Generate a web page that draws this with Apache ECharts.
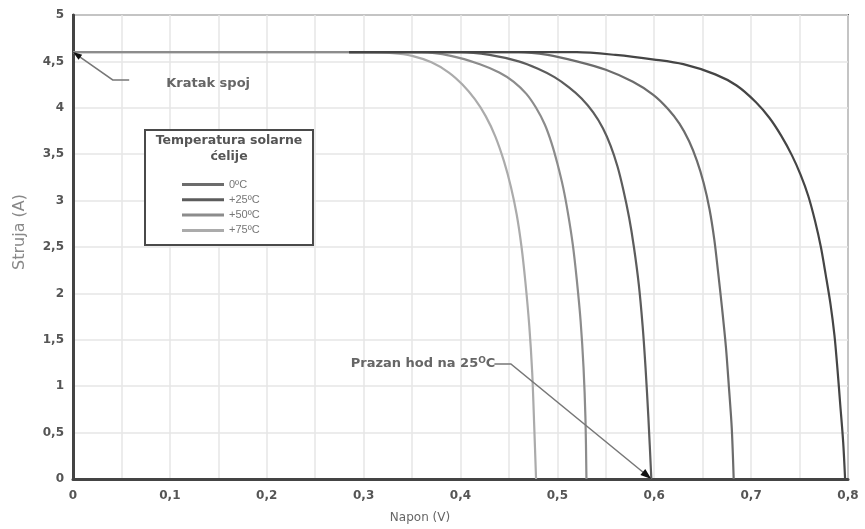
<!DOCTYPE html>
<html>
<head>
<meta charset="utf-8">
<script src="https://cdn.jsdelivr.net/npm/echarts@6/dist/echarts.min.js"></script>
<style>html,body{margin:0;padding:0;background:#fff}#c{width:865px;height:529px}</style>
</head>
<body>
<div id="c"></div>
<script>
const xTicks = ['0','0,1','0,2','0,3','0,4','0,5','0,6','0,7','0,8'];
const yTicks = ['0','0,5','1','1,5','2','2,5','3','3,5','4','4,5','5'];
const seriesNames = ['+75ºC','+50ºC','+25ºC','0ºC','krivulja 5'];
const legendNames = ['0ºC','+25ºC','+50ºC','+75ºC'];

const curve75 = [[0,4.6],[0.30,4.6],[0.33,4.59],[0.35,4.56],[0.37,4.49],[0.388,4.38],[0.402,4.25],[0.415,4.09],[0.426,3.91],[0.436,3.69],[0.445,3.42],[0.452,3.15],[0.458,2.85],[0.463,2.50],[0.467,2.12],[0.471,1.65],[0.474,1.15],[0.476,0.6],[0.478,0]];
const curve50 = [[0,4.6],[0.36,4.6],[0.39,4.56],[0.42,4.47],[0.44,4.38],[0.455,4.28],[0.468,4.15],[0.478,4.00],[0.487,3.82],[0.494,3.62],[0.500,3.40],[0.506,3.14],[0.511,2.86],[0.516,2.52],[0.520,2.15],[0.524,1.70],[0.527,1.20],[0.529,0.65],[0.530,0]];
const curve25 = [[0.285,4.6],[0.40,4.6],[0.43,4.57],[0.46,4.50],[0.48,4.42],[0.497,4.33],[0.512,4.22],[0.525,4.10],[0.537,3.95],[0.547,3.78],[0.555,3.59],[0.562,3.37],[0.568,3.12],[0.574,2.82],[0.579,2.50],[0.584,2.10],[0.588,1.65],[0.591,1.20],[0.594,0.65],[0.597,0]];
const curve0 = [[0.285,4.6],[0.46,4.6],[0.49,4.57],[0.52,4.50],[0.55,4.41],[0.578,4.28],[0.599,4.14],[0.614,3.99],[0.626,3.83],[0.636,3.64],[0.644,3.43],[0.651,3.19],[0.657,2.91],[0.662,2.58],[0.666,2.22],[0.670,1.84],[0.674,1.42],[0.677,1.00],[0.680,0.55],[0.682,0]];
const curve5 = [[0.285,4.6],[0.52,4.6],[0.56,4.57],[0.60,4.52],[0.63,4.47],[0.663,4.36],[0.685,4.24],[0.705,4.06],[0.719,3.89],[0.731,3.70],[0.742,3.49],[0.751,3.28],[0.759,3.05],[0.766,2.78],[0.772,2.50],[0.777,2.20],[0.782,1.88],[0.786,1.55],[0.789,1.20],[0.792,0.80],[0.795,0.40],[0.797,0]];
const curves = [curve75, curve50, curve25, curve0, curve5];
const colors = ['#ababab','#8c8c8c','#5c5c5c','#6c6c6c','#454545'];

// annotation anchor points (data coordinates)
const kratakPath = [[0.058,4.30],[0.041,4.30],[0,4.6]];
const prazanPath = [[0.435,1.24],[0.452,1.24],[0.597,0]];

const chart = echarts.init(document.getElementById('c'), null, {renderer:'canvas'});
const labelStyle = {color:'#555', fontWeight:'bold', fontSize:12, fontFamily:'DejaVu Sans, sans-serif'};
const gridColor = '#e6e6e6';

chart.setOption({
  animation:false,
  backgroundColor:'#fff',
  grid:{left:73, right:17, top:15, bottom:50, show:true, borderColor:'#606060', borderWidth:2, backgroundColor:'transparent'},
  xAxis:{type:'value', min:0, max:0.8, interval:0.1,
    axisLine:{show:true, onZero:false, lineStyle:{color:'#444', width:3}},
    axisTick:{show:false},
    axisLabel:Object.assign({margin:11, formatter:v=>xTicks[Math.round(v/0.1)]}, labelStyle),
    splitLine:{show:true, lineStyle:{color:gridColor, width:1.5}},
    minorTick:{show:false, splitNumber:2},
    minorSplitLine:{show:true, lineStyle:{color:gridColor, width:1.5}}
  },
  yAxis:{type:'value', min:0, max:5, interval:0.5,
    axisLine:{show:true, onZero:false, lineStyle:{color:'#444', width:3}},
    axisTick:{show:false},
    axisLabel:Object.assign({margin:9, formatter:v=>yTicks[Math.round(v/0.5)]}, labelStyle),
    splitLine:{show:true, lineStyle:{color:gridColor, width:1.5}}
  },
  legend:{data:legendNames, orient:'vertical', left:177, top:173, itemWidth:42, itemHeight:3, itemGap:2.3, z:100,
    icon:'rect', textStyle:{color:'#777', fontSize:11, lineHeight:13, fontFamily:'Liberation Sans, Arial, sans-serif'}},
  series: curves.map((d,i)=>({
    name:seriesNames[i], type:'line', data:d, showSymbol:false, symbol:'none', smooth:0.3,
    color:colors[i], lineStyle:{color:colors[i], width:2.2}, z:2+i, silent:true
  }))
});

function px(p){ return chart.convertToPixel({gridIndex:0}, p); }
function arrowHead(tip, from, size){
  const dx = tip[0]-from[0], dy = tip[1]-from[1];
  const len = Math.sqrt(dx*dx+dy*dy); const ux = dx/len, uy = dy/len;
  const bx = tip[0]-ux*size, by = tip[1]-uy*size;
  const w = size*0.35;
  return [[tip[0],tip[1]],[bx-uy*w, by+ux*w],[bx+uy*w, by-ux*w]];
}
const kp = kratakPath.map(px);
const pp = prazanPath.map(px);
const annoFont = 'bold 13px "DejaVu Sans", sans-serif';
const titleFont = 'bold 12.5px "DejaVu Sans", sans-serif';

chart.setOption({
  graphic:[
    {type:'rect', shape:{x:145, y:130, width:168, height:115}, style:{fill:'#fff', stroke:'#4a4a4a', lineWidth:2}, z:50},
    {type:'text', x:229, y:141, style:{text:'Temperatura solarne', fill:'#555', font:titleFont, textAlign:'center', textVerticalAlign:'middle'}, z:51},
    {type:'text', x:229, y:157, style:{text:'ćelije', fill:'#555', font:titleFont, textAlign:'center', textVerticalAlign:'middle'}, z:51},
    {type:'polyline', shape:{points:kp}, style:{stroke:'#777', lineWidth:1.5, fill:null}, z:60},
    {type:'polygon', shape:{points:arrowHead(kp[2], kp[1], 9)}, style:{fill:'#111'}, z:61},
    {type:'text', x:kp[0][0]+37, y:kp[0][1]+4, style:{text:'Kratak spoj', fill:'#666', font:annoFont, textAlign:'left', textVerticalAlign:'middle'}, z:60},
    {type:'polyline', shape:{points:pp}, style:{stroke:'#777', lineWidth:1.5, fill:null}, z:60},
    {type:'polygon', shape:{points:arrowHead(pp[2], pp[1], 11)}, style:{fill:'#111'}, z:61},
    {type:'text', x:pp[0][0]+1, y:pp[0][1], style:{rich:{n:{fill:'#666', font:annoFont}, s:{fill:'#666', font:'bold 9px "DejaVu Sans", sans-serif', verticalAlign:'top', padding:[0,0,6,0]}}, text:'{n|Prazan hod na 25}{s|O}{n|C}', textAlign:'right', textVerticalAlign:'middle'}, z:60},
    {type:'text', x:420, y:518, style:{text:'Napon (V)', fill:'#666', font:'12px "DejaVu Sans", sans-serif', textAlign:'center', textVerticalAlign:'middle'}, z:60},
    {type:'text', x:20, y:232, rotation:Math.PI/2, style:{text:'Struja (A)', fill:'#888', font:'16px "DejaVu Sans", sans-serif', textAlign:'center', textVerticalAlign:'middle'}, z:60}
  ]
});
</script>
</body>
</html>
